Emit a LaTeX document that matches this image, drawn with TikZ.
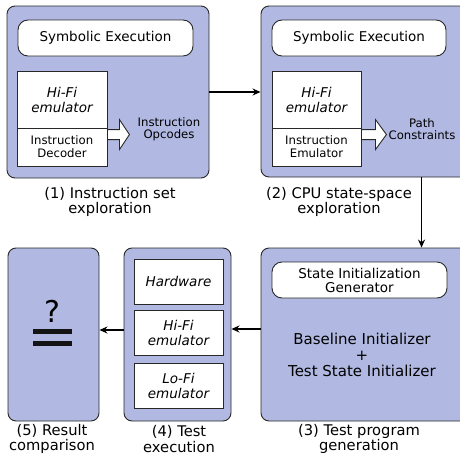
\documentclass[tikz,border=0pt]{standalone}
\usepackage{fontspec}
\setmainfont{DejaVu Sans}
\usetikzlibrary{arrows.meta,calc}
\definecolor{stagefill}{RGB}{177,185,226}
\definecolor{edge}{RGB}{40,40,40}
\tikzset{
  stage/.style={draw=edge, line width=0.9pt, fill=stagefill, rounded corners=8pt, inner sep=0pt},
  pill/.style={draw=edge, line width=0.9pt, fill=white, rounded corners=10pt, inner sep=0pt, align=center,
    font=\fontsize{13.5}{15}\selectfont},
  plain/.style={draw=edge, line width=0.9pt, fill=white, inner sep=0pt, align=center},
  emu/.style={plain, font=\fontsize{13.5}{15}\selectfont\itshape},
  unit/.style={plain, font=\fontsize{11.7}{13}\selectfont},
  note/.style={align=center, inner sep=0pt, font=\fontsize{11.7}{12}\selectfont},
  caption/.style={align=center, inner sep=0pt, font=\fontsize{14.7}{15.5}\selectfont},
  flow/.style={line width=1.3pt, -{Stealth[length=8pt,width=7pt]}},
  blockarrow/.style={draw=edge, line width=0.9pt, fill=white, line join=miter}
}
\begin{document}
\begin{tikzpicture}[x=1pt,y=-1pt]
\useasboundingbox (0,0) rectangle (460,455);
\clip (0,0) rectangle (460,455);

% (1) instruction set exploration
\node[stage, minimum width=202pt, minimum height=172pt] (s1) at (108,92) {};
\node[pill, minimum width=175pt, minimum height=36pt] (sym1) at (105.5,38) {Symbolic Execution};
\node[emu, minimum width=90pt, minimum height=57pt] (hf1) at (62,99.5) {Hi-Fi\\emulator};
\node[unit, minimum width=90pt, minimum height=38pt] (dec1) at (62,147) {Instruction\\Decoder};
\coordinate (ba1) at (dec1.north east);
\draw[blockarrow] ([yshift=-2pt]ba1) -- ++(12,0) -- ++(0,-10) -- ++(10,15) -- ++(-10,15) -- ++(0,-10) -- ++(-12,0) -- cycle;
\node[note] (op1) at (169,129) {Instruction\\Opcodes};
\node[caption] (c1) at (110,202) {(1) Instruction set\\exploration};

% (2) CPU state-space exploration
\node[stage, minimum width=209pt, minimum height=171pt] (s2) at (365.5,91.5) {};
\node[pill, minimum width=174pt, minimum height=36pt] (sym2) at (359,38) {Symbolic Execution};
\node[emu, minimum width=89pt, minimum height=57pt] (hf2) at (316.5,99.5) {Hi-Fi\\emulator};
\node[unit, minimum width=89pt, minimum height=38pt] (emu2) at (316.5,147) {Instruction\\Emulator};
\coordinate (ba2) at (emu2.north east);
\draw[blockarrow] ([yshift=-2pt]ba2) -- ++(14,0) -- ++(0,-10) -- ++(11,15) -- ++(-11,15) -- ++(0,-10) -- ++(-14,0) -- cycle;
\node[note] (pc2) at (422,129) {Path\\Constraints};
\node[caption] (c2) at (339,202) {(2) CPU state-space\\exploration};

% (3) test program generation
\node[stage, minimum width=209pt, minimum height=173pt] (s3) at (365.5,334.5) {};
\node[pill, minimum width=175pt, minimum height=36pt, font=\fontsize{13.5}{14}\selectfont] (gen3) at (359.5,280) {State Initialization\\Generator};
\node[align=center, inner sep=0pt, font=\fontsize{15}{16}\selectfont] (init3) at (362,355) {Baseline Initializer\\+\\Test State Initializer};
\node[caption] (c3) at (359,439) {(3) Test program\\generation};

% (4) test execution
\node[stage, minimum width=107pt, minimum height=173pt] (s4) at (177.5,334.5) {};
\node[emu, minimum width=89pt, minimum height=45pt] (hw4) at (178.5,281.5) {Hardware};
\node[emu, minimum width=89pt, minimum height=45pt] (hi4) at (178.5,332.5) {Hi-Fi\\emulator};
\node[emu, minimum width=89pt, minimum height=45pt] (lo4) at (178.5,385.5) {Lo-Fi\\emulator};
\node[caption] (c4) at (179,439) {(4) Test\\execution};

% (5) result comparison
\node[stage, minimum width=91pt, minimum height=173pt] (s5) at (53.5,334.5) {};
\node[inner sep=0pt, font=\fontsize{30}{30}\selectfont] (q5) at (52,311) {?};
\fill[black!92] (33,329) rectangle (72,333.5);
\fill[black!92] (33,341) rectangle (72,345.5);
\node[caption] (c5) at (52,439) {(5) Result\\comparison};

% flow between stages
\draw[flow] (s1.east) -- (s1.east -| s2.west);
\draw[flow] ([xshift=161pt]s2.south west) -- ([xshift=161pt]s3.north west);
\draw[flow] ([yshift=5.5pt]s3.west) -- ([yshift=5.5pt]s4.east);
\draw[flow] ([yshift=4.5pt]s4.west) -- ([yshift=4.5pt]s5.east);
\end{tikzpicture}
\end{document}
